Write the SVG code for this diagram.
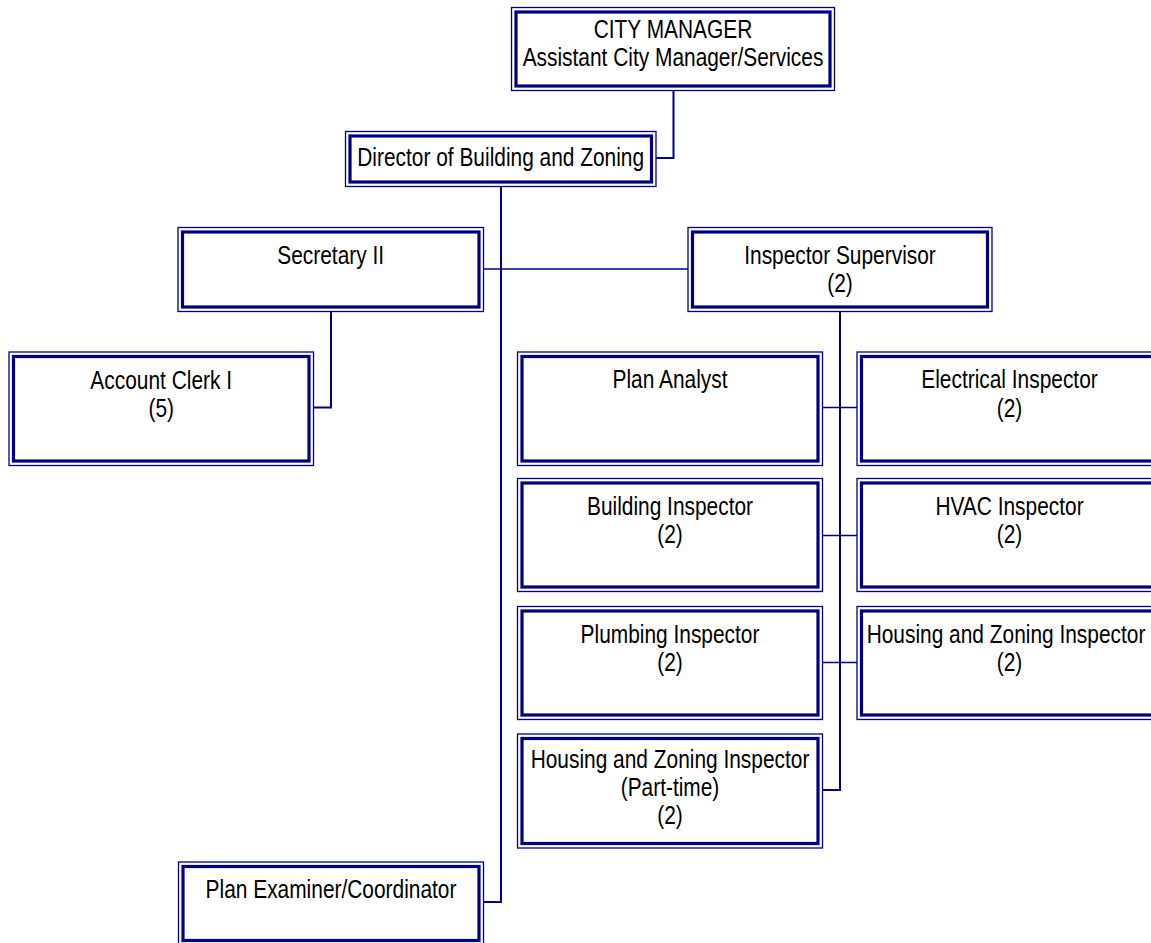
<svg xmlns="http://www.w3.org/2000/svg" width="1151" height="943" viewBox="0 0 1151 943">
<style>
.o{fill:#fff;stroke:#000080;stroke-width:1.3}
.i{fill:none;stroke:#000080;stroke-width:3.2}
.t{font-family:"Liberation Sans",Arial,sans-serif;font-size:25.5px;fill:#000;text-anchor:middle}
.c{fill:none;stroke:#000080;stroke-width:2}
.h{fill:none;stroke:#000080;stroke-width:1.5}
</style>
<rect width="1151" height="943" fill="#fff"/>
<g id="connectors">
<polyline class="c" points="673.5,90.5 673.5,158 656,158"/>
<polyline class="c" points="501,186.5 501,902 483.5,902"/>
<line class="h" x1="483.5" y1="269" x2="688" y2="269"/>
<polyline class="c" points="331,311.5 331,407.5 313.5,407.5"/>
<polyline class="c" points="840,311.5 840,790 822.5,790"/>
<line class="h" x1="822.5" y1="407.5" x2="857" y2="407.5"/>
<line class="h" x1="822.5" y1="535.5" x2="857" y2="535.5"/>
<line class="h" x1="822.5" y1="662.5" x2="857" y2="662.5"/>
</g>
<g id="city-manager">
<rect class="o" x="511.5" y="7.5" width="323" height="83"/>
<rect class="i" x="516" y="12" width="314" height="74"/>
<text class="t" transform="translate(673 38) scale(0.82 1)">CITY MANAGER</text>
<text class="t" transform="translate(673 66) scale(0.82 1)">Assistant City Manager/Services</text>
</g>
<g id="director">
<rect class="o" x="345.5" y="131.5" width="310.5" height="55"/>
<rect class="i" x="350" y="136" width="301.5" height="46"/>
<text class="t" transform="translate(500.7 166) scale(0.82 1)">Director of Building and Zoning</text>
</g>
<g id="secretary">
<rect class="o" x="178" y="227.5" width="305.5" height="84"/>
<rect class="i" x="182.5" y="232" width="296.5" height="75"/>
<text class="t" transform="translate(330.7 264) scale(0.82 1)">Secretary II</text>
</g>
<g id="inspector-supervisor">
<rect class="o" x="688" y="227.5" width="304" height="84"/>
<rect class="i" x="692.5" y="232" width="295" height="75"/>
<text class="t" transform="translate(840 264) scale(0.82 1)">Inspector Supervisor</text>
<text class="t" transform="translate(840 292) scale(0.82 1)">(2)</text>
</g>
<g id="account-clerk">
<rect class="o" x="9" y="352" width="304.5" height="113.5"/>
<rect class="i" x="13.5" y="356.5" width="295.5" height="104.5"/>
<text class="t" transform="translate(161.2 389) scale(0.82 1)">Account Clerk I</text>
<text class="t" transform="translate(161.2 417) scale(0.82 1)">(5)</text>
</g>
<g id="plan-analyst">
<rect class="o" x="517.5" y="352" width="305" height="113.5"/>
<rect class="i" x="522" y="356.5" width="296" height="104.5"/>
<text class="t" transform="translate(670 388) scale(0.82 1)">Plan Analyst</text>
</g>
<g id="electrical-inspector">
<rect class="o" x="857" y="352" width="305" height="113.5"/>
<rect class="i" x="861.5" y="356.5" width="296" height="104.5"/>
<text class="t" transform="translate(1009.5 388) scale(0.82 1)">Electrical Inspector</text>
<text class="t" transform="translate(1009.5 417) scale(0.82 1)">(2)</text>
</g>
<g id="building-inspector">
<rect class="o" x="517.5" y="478.5" width="305" height="113"/>
<rect class="i" x="522" y="483" width="296" height="104"/>
<text class="t" transform="translate(670 515) scale(0.82 1)">Building Inspector</text>
<text class="t" transform="translate(670 543) scale(0.82 1)">(2)</text>
</g>
<g id="hvac-inspector">
<rect class="o" x="857" y="478.5" width="305" height="113"/>
<rect class="i" x="861.5" y="483" width="296" height="104"/>
<text class="t" transform="translate(1009.5 515) scale(0.82 1)">HVAC Inspector</text>
<text class="t" transform="translate(1009.5 543) scale(0.82 1)">(2)</text>
</g>
<g id="plumbing-inspector">
<rect class="o" x="517.5" y="606.5" width="305" height="113"/>
<rect class="i" x="522" y="611" width="296" height="104"/>
<text class="t" transform="translate(670 643) scale(0.82 1)">Plumbing Inspector</text>
<text class="t" transform="translate(670 671) scale(0.82 1)">(2)</text>
</g>
<g id="housing-zoning-inspector">
<rect class="o" x="857" y="606.5" width="305" height="113"/>
<rect class="i" x="861.5" y="611" width="296" height="104"/>
<text class="t" transform="translate(1006 643) scale(0.82 1)">Housing and Zoning Inspector</text>
<text class="t" transform="translate(1009.5 671) scale(0.82 1)">(2)</text>
</g>
<g id="housing-zoning-parttime">
<rect class="o" x="517.5" y="734" width="305" height="114"/>
<rect class="i" x="522" y="738.5" width="296" height="105"/>
<text class="t" transform="translate(670 768) scale(0.82 1)">Housing and Zoning Inspector</text>
<text class="t" transform="translate(670 796) scale(0.82 1)">(Part-time)</text>
<text class="t" transform="translate(670 824) scale(0.82 1)">(2)</text>
</g>
<g id="plan-examiner">
<rect class="o" x="178.5" y="862" width="305" height="83"/>
<rect class="i" x="183" y="866.5" width="296" height="74"/>
<text class="t" transform="translate(331 898) scale(0.82 1)">Plan Examiner/Coordinator</text>
</g>
</svg>
